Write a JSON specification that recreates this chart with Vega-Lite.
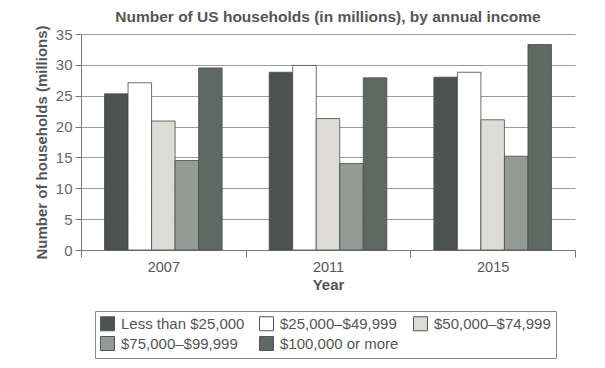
{
  "$schema": "https://vega.github.io/schema/vega-lite/v6.json",
  "width": 494,
  "height": 216,
  "autosize": {"type": "none"},
  "padding": {"left": 81, "top": 34, "right": 30, "bottom": 118},
  "background": "white",
  "title": {
    "text": "Number of US households (in millions), by annual income",
    "font": "Liberation Sans",
    "fontSize": 15.5,
    "fontWeight": "bold",
    "color": "#555555",
    "anchor": "middle",
    "offset": -1
  },
  "data": {
    "values": [
      {"year": "2007", "income": "Less than $25,000", "value": 25.3},
      {"year": "2007", "income": "$25,000–$49,999", "value": 27.1},
      {"year": "2007", "income": "$50,000–$74,999", "value": 20.9},
      {"year": "2007", "income": "$75,000–$99,999", "value": 14.5},
      {"year": "2007", "income": "$100,000 or more", "value": 29.5},
      {"year": "2011", "income": "Less than $25,000", "value": 28.8},
      {"year": "2011", "income": "$25,000–$49,999", "value": 29.9},
      {"year": "2011", "income": "$50,000–$74,999", "value": 21.3},
      {"year": "2011", "income": "$75,000–$99,999", "value": 14.0},
      {"year": "2011", "income": "$100,000 or more", "value": 27.9},
      {"year": "2015", "income": "Less than $25,000", "value": 28.0},
      {"year": "2015", "income": "$25,000–$49,999", "value": 28.8},
      {"year": "2015", "income": "$50,000–$74,999", "value": 21.1},
      {"year": "2015", "income": "$75,000–$99,999", "value": 15.2},
      {"year": "2015", "income": "$100,000 or more", "value": 33.3}
    ]
  },
  "mark": {"type": "bar", "stroke": "#4a4a4a", "strokeWidth": 0.8},
  "encoding": {
    "x": {
      "field": "year",
      "type": "nominal",
      "scale": {"paddingInner": 0, "paddingOuter": 0},
      "axis": {
        "title": "Year",
        "labelAngle": 0,
        "tickBand": "extent",
        "tickSize": 7,
        "tickColor": "#777777",
        "domainColor": "#777777",
        "labelFont": "Liberation Sans",
        "labelFontSize": 14.5,
        "labelColor": "#555555",
        "labelPadding": 3,
        "titleFont": "Liberation Sans",
        "titleFontSize": 15,
        "titleFontWeight": "bold",
        "titleColor": "#555555",
        "titlePadding": 4
      }
    },
    "xOffset": {
      "field": "income",
      "type": "nominal",
      "sort": ["Less than $25,000", "$25,000–$49,999", "$50,000–$74,999", "$75,000–$99,999", "$100,000 or more"],
      "scale": {"paddingInner": 0, "paddingOuter": 1.28}
    },
    "y": {
      "field": "value",
      "type": "quantitative",
      "scale": {"domain": [0, 35], "nice": false},
      "axis": {
        "title": "Number of households (millions)",
        "values": [0, 5, 10, 15, 20, 25, 30, 35],
        "grid": true,
        "gridColor": "#9a9a9a",
        "gridWidth": 1,
        "tickSize": 6,
        "tickColor": "#777777",
        "domainColor": "#777777",
        "labelFont": "Liberation Sans",
        "labelFontSize": 15,
        "labelColor": "#666666",
        "labelPadding": 3,
        "titleFont": "Liberation Sans",
        "titleFontSize": 15,
        "titleFontWeight": "bold",
        "titleColor": "#555555",
        "titlePadding": 6
      }
    },
    "color": {
      "field": "income",
      "type": "nominal",
      "scale": {
        "domain": ["Less than $25,000", "$25,000–$49,999", "$50,000–$74,999", "$75,000–$99,999", "$100,000 or more"],
        "range": ["#4b5350", "#ffffff", "#dcdcd4", "#939b95", "#5f6963"]
      },
      "legend": {
        "title": null,
        "orient": "none",
        "legendX": 14,
        "legendY": 277,
        "direction": "horizontal",
        "columns": 3,
        "columnPadding": 12,
        "rowPadding": 1,
        "symbolType": "square",
        "symbolSize": 196,
        "symbolStrokeColor": "#555555",
        "symbolStrokeWidth": 1,
        "labelFont": "Liberation Sans",
        "labelFontSize": 15,
        "labelColor": "#555555",
        "labelOffset": 6,
        "labelLimit": 300,
        "padding": 5,
        "strokeColor": "#888888",
        "fillColor": "white"
      }
    }
  },
  "config": {
    "view": {"stroke": null},
    "axis": {"gridColor": "#9a9a9a"}
  }
}
